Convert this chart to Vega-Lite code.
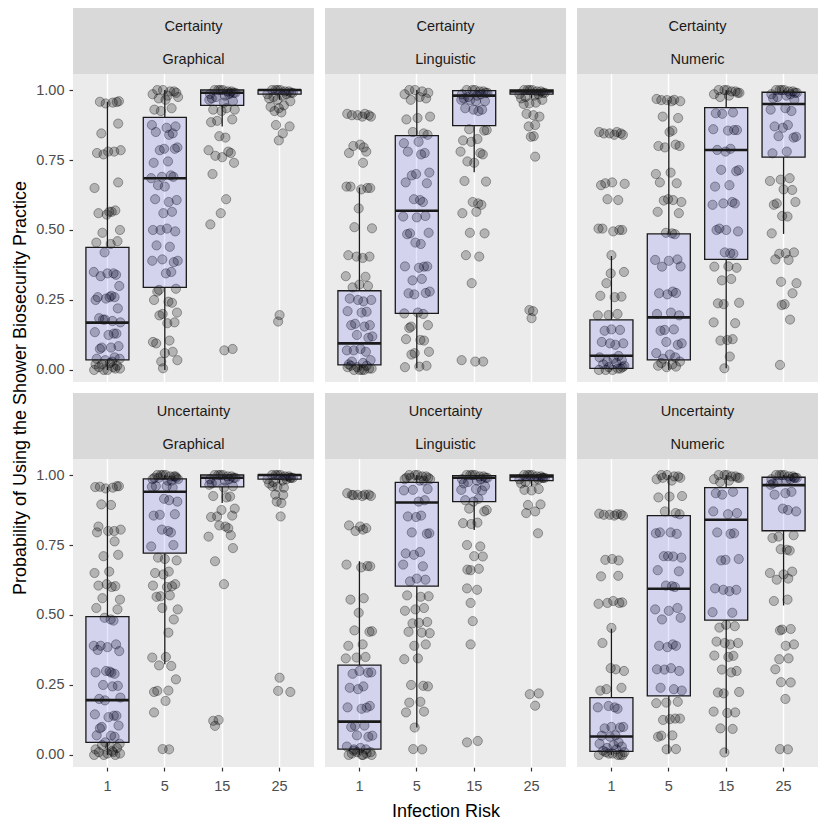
{
  "$schema": "https://vega.github.io/schema/vega-lite/v6.json",
  "padding": {"left": 11, "top": 8, "right": 5, "bottom": 5},
  "background": "white",
  "config": {
    "font": "Liberation Sans",
    "view": {"fill": "#ebebeb", "stroke": null},
    "axis": {
      "labelFont": "Liberation Sans",
      "labelFontSize": 14.5,
      "labelColor": "#4d4d4d",
      "tickColor": "#333333",
      "tickSize": 4,
      "tickWidth": 1.2,
      "gridColor": "#ffffff",
      "domain": false,
      "labelPadding": 5
    },
    "header": {
      "titleFont": "Liberation Sans",
      "titleFontSize": 18,
      "titleFontWeight": "normal",
      "titleColor": "#000000"
    }
  },
  "data": {
    "values": [
      {"condition": "Certainty", "format": "Graphical", "risk": "1", "lo": 0, "q1": 0.036, "md": 0.169, "q3": 0.438, "hi": 0.958,
       "p": [[0.958,-0.21],[0.955,0.15],[0.96,0.32],[0.952,-0.05],[0.957,0.26],[0.88,0.30],[0.845,-0.17],[0.78,0.02],[0.785,0.37],[0.775,-0.29],[0.78,0.19],[0.77,-0.11],[0.67,0.30],[0.65,-0.36],[0.565,0.05],[0.57,0.22],[0.56,-0.25],[0.565,0.12],[0.555,-0.02],[0.5,0.35],[0.49,-0.14],[0.46,0.28],[0.455,-0.31],[0.45,0.09],[0.42,-0.08],[0.345,0.17],[0.35,-0.38],[0.34,0.24],[0.345,0.0],[0.335,-0.19],[0.30,0.33],[0.26,-0.27],[0.265,0.11],[0.255,-0.04],[0.26,0.20],[0.25,-0.33],[0.26,0.06],[0.22,0.29],[0.18,-0.12],[0.175,0.14],[0.185,-0.23],[0.17,0.36],[0.18,-0.07],[0.13,0.25],[0.135,-0.35],[0.125,0.03],[0.13,0.18],[0.08,-0.16],[0.085,0.31],[0.075,-0.21],[0.08,0.10],[0.04,-0.30],[0.045,0.20],[0.035,-0.06],[0.04,0.34],[0.02,-0.15],[0.025,0.07],[0.015,0.27],[0.02,-0.33],[0.03,0.13],[0.01,-0.24],[0.0,0.0],[0.005,0.22],[0.0,-0.10],[0.005,0.35],[0.0,-0.37],[0.01,0.16]]},
      {"condition": "Certainty", "format": "Graphical", "risk": "5", "lo": 0, "q1": 0.295, "md": 0.685, "q3": 0.902, "hi": 1.0,
       "p": [[1.0,-0.21],[0.995,0.15],[0.99,0.32],[1.0,-0.05],[0.985,-0.34],[0.98,0.08],[0.995,0.26],[0.97,-0.17],[0.965,0.02],[0.975,0.37],[0.93,-0.29],[0.935,0.19],[0.925,-0.11],[0.87,0.30],[0.875,-0.36],[0.865,0.05],[0.845,0.22],[0.85,-0.25],[0.84,0.12],[0.79,-0.02],[0.795,0.35],[0.785,-0.14],[0.79,0.28],[0.74,-0.31],[0.745,0.09],[0.69,-0.08],[0.695,0.17],[0.685,-0.38],[0.69,0.24],[0.655,0.0],[0.66,-0.19],[0.607,0.33],[0.61,-0.27],[0.6,0.11],[0.56,-0.04],[0.565,0.20],[0.5,-0.33],[0.505,0.06],[0.495,0.29],[0.5,-0.12],[0.44,0.14],[0.445,-0.23],[0.39,0.36],[0.395,-0.07],[0.385,0.25],[0.39,-0.35],[0.345,0.03],[0.35,0.18],[0.286,-0.16],[0.29,0.31],[0.28,-0.21],[0.244,0.10],[0.25,-0.30],[0.24,0.20],[0.2,-0.06],[0.205,0.34],[0.195,-0.15],[0.167,0.07],[0.17,0.27],[0.1,-0.33],[0.105,0.13],[0.095,-0.24],[0.06,0.0],[0.065,0.22],[0.03,-0.10],[0.035,0.35],[0.006,-0.05]]},
      {"condition": "Certainty", "format": "Graphical", "risk": "15", "lo": 0.87, "q1": 0.945, "md": 0.99, "q3": 1.0, "hi": 1.0,
       "p": [[1.0,-0.21],[0.995,0.15],[0.99,0.32],[1.0,-0.05],[0.985,-0.34],[0.98,0.08],[0.995,0.26],[0.975,-0.17],[1.0,0.02],[0.99,0.37],[0.97,-0.29],[0.985,0.19],[1.0,-0.11],[0.96,0.30],[0.965,-0.36],[0.955,0.05],[0.99,0.22],[0.93,-0.25],[0.935,0.12],[0.925,-0.02],[0.93,0.35],[0.89,-0.14],[0.895,0.28],[0.885,-0.31],[0.83,0.09],[0.835,-0.08],[0.78,0.17],[0.785,-0.38],[0.775,0.24],[0.76,0.0],[0.765,-0.19],[0.74,0.33],[0.70,-0.27],[0.61,0.11],[0.56,-0.04],[0.52,-0.33],[0.07,0.06],[0.075,0.29]]},
      {"condition": "Certainty", "format": "Graphical", "risk": "25", "lo": 0.965, "q1": 0.985, "md": 1.0, "q3": 1.0, "hi": 1.0,
       "p": [[1.0,-0.21],[0.995,0.15],[0.99,0.32],[1.0,-0.05],[0.985,-0.34],[0.98,0.08],[0.995,0.26],[0.975,-0.17],[1.0,0.02],[0.99,0.37],[0.97,-0.29],[0.985,0.19],[1.0,-0.11],[0.96,0.30],[0.965,-0.06],[0.94,-0.25],[0.945,0.12],[0.935,-0.02],[0.92,0.05],[0.925,-0.14],[0.87,0.28],[0.875,-0.1],[0.845,0.09],[0.82,-0.02],[0.196,0.0],[0.173,-0.04]]},
      {"condition": "Certainty", "format": "Linguistic", "risk": "1", "lo": 0, "q1": 0.018, "md": 0.095, "q3": 0.283, "hi": 0.652,
       "p": [[0.91,-0.21],[0.915,0.15],[0.905,0.32],[0.91,-0.05],[0.915,-0.34],[0.905,0.08],[0.91,0.26],[0.80,-0.17],[0.805,0.02],[0.795,0.12],[0.775,-0.29],[0.78,0.19],[0.74,0.1],[0.65,0.30],[0.655,-0.36],[0.645,0.05],[0.65,0.22],[0.655,-0.25],[0.577,-0.02],[0.506,0.35],[0.51,-0.14],[0.405,0.28],[0.41,-0.31],[0.40,0.09],[0.405,-0.08],[0.333,0.17],[0.335,-0.38],[0.30,0.24],[0.305,0.0],[0.295,-0.19],[0.25,0.33],[0.255,-0.27],[0.245,0.11],[0.25,-0.04],[0.208,0.20],[0.21,-0.33],[0.205,0.06],[0.16,0.29],[0.165,-0.12],[0.155,0.14],[0.16,-0.23],[0.12,0.36],[0.125,-0.07],[0.115,0.25],[0.07,-0.35],[0.075,0.03],[0.065,0.18],[0.07,-0.16],[0.035,0.31],[0.03,-0.21],[0.025,0.10],[0.02,-0.30],[0.015,0.20],[0.01,-0.06],[0.005,0.34],[0.0,-0.15],[0.0,0.07],[0.005,0.27],[0.01,-0.33],[0.0,0.13],[0.015,-0.24],[0.0,0.0]]},
      {"condition": "Certainty", "format": "Linguistic", "risk": "5", "lo": 0.006, "q1": 0.202, "md": 0.569, "q3": 0.837, "hi": 1.0,
       "p": [[1.0,-0.21],[0.995,0.15],[0.99,0.32],[1.0,-0.05],[0.985,-0.34],[0.975,0.08],[0.97,0.26],[0.965,-0.17],[0.9,0.02],[0.905,0.37],[0.895,-0.29],[0.845,0.19],[0.85,-0.11],[0.84,0.30],[0.81,-0.36],[0.815,0.05],[0.775,0.22],[0.78,-0.25],[0.77,0.12],[0.70,-0.02],[0.705,0.35],[0.695,-0.14],[0.667,0.28],[0.67,-0.31],[0.607,0.09],[0.61,-0.08],[0.6,0.17],[0.548,-0.38],[0.55,0.24],[0.545,0.0],[0.488,-0.19],[0.49,0.33],[0.485,-0.27],[0.45,0.11],[0.455,-0.04],[0.369,0.20],[0.37,-0.33],[0.365,0.06],[0.37,0.29],[0.32,-0.12],[0.325,0.14],[0.274,-0.23],[0.28,0.36],[0.27,-0.07],[0.275,0.25],[0.202,-0.35],[0.205,0.03],[0.2,0.18],[0.155,-0.16],[0.16,0.31],[0.15,-0.21],[0.107,0.10],[0.11,-0.30],[0.105,0.20],[0.06,-0.06],[0.065,0.34],[0.055,-0.15],[0.012,0.07],[0.015,0.27],[0.01,-0.33]]},
      {"condition": "Certainty", "format": "Linguistic", "risk": "15", "lo": 0.706, "q1": 0.873, "md": 0.98, "q3": 0.998, "hi": 1.0,
       "p": [[1.0,-0.21],[0.995,0.15],[0.99,0.32],[1.0,-0.05],[0.985,-0.34],[0.98,0.08],[0.995,0.26],[0.975,-0.17],[1.0,0.02],[0.99,0.37],[0.97,-0.29],[0.985,0.19],[0.964,-0.11],[0.96,0.30],[0.965,-0.36],[0.96,0.05],[0.93,0.22],[0.935,-0.25],[0.925,0.12],[0.93,-0.02],[0.857,0.35],[0.86,-0.14],[0.855,0.28],[0.82,-0.31],[0.825,0.09],[0.815,-0.08],[0.775,0.17],[0.78,-0.38],[0.77,0.24],[0.74,0.0],[0.745,-0.19],[0.673,0.33],[0.675,-0.27],[0.595,0.11],[0.6,-0.04],[0.59,0.20],[0.56,-0.33],[0.565,0.06],[0.488,0.29],[0.49,-0.12],[0.405,0.14],[0.41,-0.23],[0.31,-0.07],[0.03,0.25],[0.035,-0.35],[0.03,0.03]]},
      {"condition": "Certainty", "format": "Linguistic", "risk": "25", "lo": 0.97, "q1": 0.985, "md": 0.995, "q3": 1.0, "hi": 1.0,
       "p": [[1.0,-0.21],[0.995,0.15],[0.99,0.32],[1.0,-0.05],[0.985,-0.34],[0.98,0.08],[0.995,0.26],[0.975,-0.17],[1.0,0.02],[0.99,0.37],[0.97,-0.29],[0.985,0.19],[1.0,-0.11],[0.965,0.30],[0.952,-0.06],[0.955,0.12],[0.95,-0.22],[0.91,0.05],[0.915,-0.14],[0.905,0.22],[0.87,-0.08],[0.875,0.1],[0.833,-0.02],[0.835,0.06],[0.762,0.1],[0.214,-0.06],[0.21,0.04],[0.185,0.0]]},
      {"condition": "Certainty", "format": "Numeric", "risk": "1", "lo": 0, "q1": 0.006, "md": 0.051, "q3": 0.179, "hi": 0.407,
       "p": [[0.845,-0.21],[0.85,0.15],[0.84,0.32],[0.845,-0.05],[0.85,-0.34],[0.84,0.08],[0.845,0.26],[0.667,-0.17],[0.67,0.02],[0.665,0.37],[0.66,-0.29],[0.607,0.19],[0.61,-0.11],[0.5,0.30],[0.505,-0.36],[0.495,0.05],[0.5,0.22],[0.505,-0.25],[0.41,0.0],[0.345,-0.02],[0.35,0.35],[0.31,-0.14],[0.262,0.28],[0.265,-0.31],[0.26,0.09],[0.196,-0.08],[0.2,0.17],[0.195,-0.38],[0.143,0.24],[0.145,0.0],[0.14,-0.19],[0.095,0.33],[0.1,-0.27],[0.09,0.11],[0.095,-0.04],[0.05,0.20],[0.045,-0.33],[0.04,0.06],[0.035,0.29],[0.03,-0.12],[0.025,0.14],[0.02,-0.23],[0.015,0.36],[0.01,-0.07],[0.005,0.25],[0.0,-0.35],[0.0,0.03],[0.005,0.18],[0.0,-0.16],[0.01,0.31]]},
      {"condition": "Certainty", "format": "Numeric", "risk": "5", "lo": 0, "q1": 0.036, "md": 0.188, "q3": 0.486, "hi": 0.964,
       "p": [[0.964,-0.21],[0.965,0.15],[0.96,0.32],[0.964,-0.05],[0.968,-0.34],[0.96,0.08],[0.9,0.26],[0.905,-0.17],[0.85,0.02],[0.855,0.1],[0.8,-0.29],[0.805,0.19],[0.795,-0.11],[0.8,0.30],[0.70,-0.36],[0.705,0.05],[0.667,0.22],[0.67,-0.25],[0.607,0.12],[0.61,-0.02],[0.6,0.35],[0.605,-0.14],[0.56,0.28],[0.565,-0.31],[0.488,0.09],[0.49,-0.08],[0.485,0.17],[0.393,-0.38],[0.395,0.24],[0.39,0.0],[0.369,-0.19],[0.37,0.33],[0.274,-0.27],[0.28,0.11],[0.27,-0.04],[0.275,0.20],[0.2,-0.33],[0.205,0.06],[0.195,0.29],[0.143,-0.12],[0.145,0.14],[0.14,-0.23],[0.095,0.36],[0.1,-0.07],[0.09,0.25],[0.06,-0.35],[0.055,0.03],[0.045,0.18],[0.04,-0.16],[0.03,0.31],[0.025,-0.21],[0.02,0.10],[0.015,-0.30],[0.012,0.20],[0.01,-0.06]]},
      {"condition": "Certainty", "format": "Numeric", "risk": "15", "lo": 0.006, "q1": 0.395, "md": 0.786, "q3": 0.937, "hi": 1.0,
       "p": [[1.0,-0.21],[0.995,0.15],[0.99,0.32],[1.0,-0.05],[0.985,-0.34],[0.98,0.08],[0.995,0.26],[0.975,-0.17],[1.0,0.02],[0.99,0.37],[0.917,-0.29],[0.92,0.19],[0.915,-0.11],[0.857,0.30],[0.86,-0.36],[0.855,0.05],[0.857,0.22],[0.786,-0.25],[0.79,0.12],[0.78,-0.02],[0.714,0.35],[0.715,-0.14],[0.71,0.28],[0.655,-0.31],[0.66,0.09],[0.595,-0.08],[0.6,0.17],[0.59,-0.38],[0.595,0.24],[0.5,0.0],[0.505,-0.19],[0.495,0.33],[0.5,-0.27],[0.417,0.11],[0.42,-0.04],[0.415,0.20],[0.369,-0.33],[0.37,0.06],[0.365,0.29],[0.32,-0.12],[0.325,0.14],[0.238,-0.23],[0.24,0.36],[0.235,-0.07],[0.167,0.25],[0.17,-0.35],[0.107,0.03],[0.11,0.18],[0.105,-0.16],[0.048,0.1],[0.006,-0.05]]},
      {"condition": "Certainty", "format": "Numeric", "risk": "25", "lo": 0.486, "q1": 0.76, "md": 0.95, "q3": 0.992, "hi": 1.0,
       "p": [[1.0,-0.21],[0.995,0.15],[0.99,0.32],[1.0,-0.05],[0.985,-0.34],[0.98,0.08],[0.995,0.26],[0.975,-0.17],[1.0,0.02],[0.99,0.37],[0.97,-0.29],[0.985,0.19],[1.0,-0.11],[0.965,0.30],[0.93,-0.36],[0.935,0.05],[0.925,0.22],[0.87,-0.25],[0.875,0.12],[0.865,-0.02],[0.833,0.35],[0.835,-0.14],[0.83,0.28],[0.774,-0.31],[0.78,0.09],[0.68,-0.08],[0.685,0.17],[0.675,-0.38],[0.643,0.24],[0.645,0.0],[0.595,-0.19],[0.6,0.33],[0.59,-0.27],[0.548,0.11],[0.55,-0.04],[0.488,-0.33],[0.417,0.06],[0.42,0.29],[0.415,-0.12],[0.393,0.14],[0.395,-0.23],[0.31,0.36],[0.315,-0.07],[0.274,0.25],[0.232,-0.05],[0.235,0.03],[0.18,0.18],[0.018,-0.1]]},
      {"condition": "Uncertainty", "format": "Graphical", "risk": "1", "lo": 0, "q1": 0.045, "md": 0.196, "q3": 0.494, "hi": 0.958,
       "p": [[0.958,-0.21],[0.955,0.15],[0.96,0.32],[0.952,-0.05],[0.957,-0.34],[0.96,0.26],[0.893,0.1],[0.895,-0.17],[0.816,-0.25],[0.8,0.02],[0.805,0.37],[0.795,-0.29],[0.8,0.19],[0.763,0.2],[0.71,-0.11],[0.715,0.30],[0.65,-0.36],[0.655,0.05],[0.603,0.22],[0.605,-0.25],[0.6,0.12],[0.61,-0.02],[0.555,0.35],[0.56,-0.14],[0.52,0.28],[0.525,-0.31],[0.484,0.09],[0.49,-0.08],[0.48,0.17],[0.39,-0.38],[0.395,0.24],[0.385,0.0],[0.39,-0.19],[0.371,0.33],[0.375,-0.27],[0.294,0.11],[0.3,-0.04],[0.29,0.20],[0.295,-0.33],[0.298,0.06],[0.247,0.29],[0.25,-0.12],[0.245,0.14],[0.2,-0.23],[0.205,0.36],[0.195,-0.07],[0.14,0.25],[0.145,-0.35],[0.135,0.03],[0.14,0.18],[0.1,-0.16],[0.105,0.31],[0.095,-0.21],[0.069,0.10],[0.07,-0.30],[0.065,0.20],[0.045,-0.06],[0.04,0.34],[0.035,-0.15],[0.03,0.07],[0.025,0.27],[0.02,-0.33],[0.015,0.13],[0.01,-0.24],[0.005,0.0],[0.0,0.22],[0.0,-0.10],[0.005,0.35],[0.0,-0.37],[0.01,0.16]]},
      {"condition": "Uncertainty", "format": "Graphical", "risk": "5", "lo": 0.324, "q1": 0.721, "md": 0.94, "q3": 0.986, "hi": 1.0,
       "p": [[1.0,-0.21],[0.995,0.15],[0.99,0.32],[1.0,-0.05],[0.985,-0.34],[0.98,0.08],[0.995,0.26],[0.99,-0.17],[1.0,0.02],[0.985,0.37],[0.99,-0.29],[0.98,0.19],[1.0,-0.11],[0.995,0.30],[0.958,-0.36],[0.96,0.05],[0.955,0.22],[0.96,-0.25],[0.91,0.12],[0.915,-0.02],[0.905,0.35],[0.858,-0.14],[0.86,0.28],[0.855,-0.31],[0.8,0.09],[0.805,-0.08],[0.795,0.17],[0.745,-0.38],[0.75,0.24],[0.7,0.0],[0.705,-0.19],[0.695,0.33],[0.65,-0.27],[0.655,0.11],[0.645,-0.04],[0.603,0.20],[0.605,-0.33],[0.6,0.06],[0.61,0.29],[0.567,-0.12],[0.57,0.14],[0.565,-0.23],[0.52,0.36],[0.525,-0.07],[0.484,0.25],[0.437,0.1],[0.348,-0.35],[0.35,0.03],[0.318,0.18],[0.32,-0.16],[0.27,0.31],[0.229,-0.21],[0.23,0.10],[0.225,-0.30],[0.193,0.02],[0.152,-0.3],[0.021,-0.06],[0.02,0.12]]},
      {"condition": "Uncertainty", "format": "Graphical", "risk": "15", "lo": 0.9, "q1": 0.958, "md": 0.99, "q3": 1.0, "hi": 1.0,
       "p": [[1.0,-0.21],[0.995,0.15],[0.99,0.32],[1.0,-0.05],[0.985,-0.34],[0.98,0.08],[0.995,0.26],[0.975,-0.17],[1.0,0.02],[0.99,0.37],[0.97,-0.29],[0.985,0.19],[1.0,-0.11],[0.96,0.30],[0.965,-0.36],[0.955,0.05],[0.923,0.22],[0.925,-0.25],[0.92,0.12],[0.875,-0.02],[0.88,0.35],[0.852,-0.14],[0.855,0.28],[0.85,-0.31],[0.816,0.09],[0.82,-0.08],[0.81,0.17],[0.78,-0.38],[0.785,0.24],[0.739,0.3],[0.692,-0.2],[0.61,0.05],[0.122,-0.25],[0.125,-0.1],[0.104,-0.2]]},
      {"condition": "Uncertainty", "format": "Graphical", "risk": "25", "lo": 0.97, "q1": 0.985, "md": 1.0, "q3": 1.0, "hi": 1.0,
       "p": [[1.0,-0.21],[0.995,0.15],[0.99,0.32],[1.0,-0.05],[0.985,-0.34],[0.98,0.08],[0.995,0.26],[0.975,-0.17],[1.0,0.02],[0.99,0.37],[0.97,-0.29],[0.985,0.19],[1.0,-0.11],[0.99,0.30],[0.958,-0.06],[0.955,0.12],[0.96,-0.2],[0.929,0.1],[0.93,-0.12],[0.9,0.05],[0.905,-0.08],[0.852,0.03],[0.276,0.0],[0.229,-0.04],[0.225,0.3]]},
      {"condition": "Uncertainty", "format": "Linguistic", "risk": "1", "lo": 0, "q1": 0.021, "md": 0.119, "q3": 0.321, "hi": 0.692,
       "p": [[0.929,-0.21],[0.93,0.15],[0.925,0.32],[0.929,-0.05],[0.935,-0.34],[0.925,0.08],[0.93,0.26],[0.928,-0.17],[0.816,0.02],[0.82,-0.29],[0.81,0.19],[0.8,-0.11],[0.805,0.10],[0.674,0.30],[0.68,-0.36],[0.67,0.05],[0.675,0.22],[0.555,-0.25],[0.56,0.12],[0.508,-0.02],[0.442,0.35],[0.445,-0.14],[0.44,0.28],[0.39,-0.31],[0.395,0.09],[0.348,-0.08],[0.35,0.17],[0.345,-0.38],[0.294,0.24],[0.3,0.0],[0.29,-0.19],[0.295,0.33],[0.24,-0.27],[0.245,0.11],[0.235,-0.04],[0.169,0.20],[0.17,-0.33],[0.165,0.06],[0.175,0.29],[0.104,-0.12],[0.105,0.14],[0.1,-0.23],[0.069,0.36],[0.07,-0.07],[0.065,0.25],[0.03,-0.35],[0.025,0.03],[0.02,0.18],[0.015,-0.16],[0.01,0.31],[0.005,-0.21],[0.0,0.10],[0.0,-0.30],[0.005,0.20],[0.01,-0.06],[0.0,0.34],[0.02,-0.15],[0.0,0.07]]},
      {"condition": "Uncertainty", "format": "Linguistic", "risk": "5", "lo": 0.098, "q1": 0.603, "md": 0.902, "q3": 0.974, "hi": 1.0,
       "p": [[1.0,-0.21],[0.995,0.15],[0.99,0.32],[1.0,-0.05],[0.985,-0.34],[0.98,0.08],[0.995,0.26],[0.99,-0.17],[1.0,0.02],[0.985,0.37],[0.99,-0.29],[0.98,0.19],[0.947,-0.11],[0.95,0.30],[0.945,-0.36],[0.905,0.05],[0.91,0.22],[0.852,-0.25],[0.855,0.12],[0.85,-0.02],[0.792,0.35],[0.795,-0.14],[0.79,0.28],[0.72,-0.31],[0.725,0.09],[0.715,-0.08],[0.674,0.17],[0.68,-0.38],[0.626,0.24],[0.63,0.0],[0.62,-0.19],[0.567,0.33],[0.57,-0.27],[0.565,0.11],[0.52,-0.04],[0.525,0.20],[0.515,-0.33],[0.472,0.06],[0.475,0.29],[0.47,-0.12],[0.437,0.14],[0.44,-0.23],[0.435,0.36],[0.39,-0.07],[0.395,0.25],[0.342,-0.35],[0.345,0.03],[0.247,0.18],[0.25,-0.16],[0.245,0.31],[0.187,-0.21],[0.19,0.10],[0.152,-0.30],[0.155,0.20],[0.098,-0.06],[0.021,-0.1],[0.02,0.15]]},
      {"condition": "Uncertainty", "format": "Linguistic", "risk": "15", "lo": 0.804, "q1": 0.905, "md": 0.99, "q3": 0.998, "hi": 1.0,
       "p": [[1.0,-0.21],[0.995,0.15],[0.99,0.32],[1.0,-0.05],[0.985,-0.34],[0.98,0.08],[0.995,0.26],[0.975,-0.17],[1.0,0.02],[0.99,0.37],[0.97,-0.29],[0.985,0.19],[1.0,-0.11],[0.96,0.30],[0.947,-0.36],[0.95,0.05],[0.945,0.22],[0.91,-0.25],[0.915,0.12],[0.905,-0.02],[0.875,0.35],[0.88,-0.14],[0.87,0.28],[0.828,-0.31],[0.83,0.09],[0.825,-0.08],[0.745,0.17],[0.75,-0.2],[0.709,0.24],[0.71,0.0],[0.662,-0.19],[0.665,0.13],[0.66,-0.1],[0.59,0.08],[0.595,-0.2],[0.543,-0.1],[0.478,-0.04],[0.395,-0.1],[0.045,-0.2],[0.05,0.1]]},
      {"condition": "Uncertainty", "format": "Linguistic", "risk": "25", "lo": 0.96, "q1": 0.98, "md": 0.995, "q3": 1.0, "hi": 1.0,
       "p": [[1.0,-0.21],[0.995,0.15],[0.99,0.32],[1.0,-0.05],[0.985,-0.34],[0.98,0.08],[0.995,0.26],[0.975,-0.17],[1.0,0.02],[0.99,0.37],[0.97,-0.29],[0.985,0.19],[1.0,-0.11],[0.99,0.30],[0.947,-0.2],[0.95,0.2],[0.945,0.0],[0.893,-0.1],[0.895,0.25],[0.864,-0.15],[0.87,0.1],[0.792,0.18],[0.217,-0.05],[0.22,0.2],[0.176,0.1]]},
      {"condition": "Uncertainty", "format": "Numeric", "risk": "1", "lo": 0, "q1": 0.013, "md": 0.066, "q3": 0.205, "hi": 0.451,
       "p": [[0.858,-0.21],[0.86,0.15],[0.855,0.32],[0.858,-0.05],[0.862,-0.34],[0.855,0.08],[0.86,0.26],[0.697,-0.17],[0.7,0.02],[0.695,0.2],[0.638,-0.29],[0.64,0.19],[0.543,-0.11],[0.545,0.30],[0.54,-0.36],[0.55,0.05],[0.543,0.22],[0.454,0.0],[0.4,-0.25],[0.306,0.12],[0.31,-0.02],[0.3,0.35],[0.235,-0.14],[0.24,0.28],[0.23,-0.31],[0.17,0.09],[0.175,-0.08],[0.165,0.17],[0.17,-0.38],[0.098,0.24],[0.1,0.0],[0.095,-0.19],[0.1,0.33],[0.069,-0.27],[0.07,0.11],[0.065,-0.04],[0.045,0.20],[0.04,-0.33],[0.035,0.06],[0.03,0.29],[0.025,-0.12],[0.02,0.14],[0.015,-0.23],[0.01,0.36],[0.005,-0.07],[0.0,0.25],[0.0,-0.35],[0.005,0.03],[0.0,0.18],[0.01,-0.16],[0.0,0.31]]},
      {"condition": "Uncertainty", "format": "Numeric", "risk": "5", "lo": 0.005, "q1": 0.211, "md": 0.594, "q3": 0.855, "hi": 1.0,
       "p": [[1.0,-0.21],[0.995,0.15],[0.99,0.32],[1.0,-0.05],[0.985,-0.34],[0.98,0.08],[0.995,0.26],[0.99,-0.17],[0.923,0.02],[0.925,0.37],[0.92,-0.29],[0.864,0.19],[0.87,-0.11],[0.86,0.30],[0.792,-0.36],[0.795,0.05],[0.79,0.22],[0.795,-0.25],[0.709,0.12],[0.71,-0.02],[0.705,0.35],[0.71,-0.14],[0.656,0.28],[0.66,-0.31],[0.603,0.09],[0.605,-0.08],[0.6,0.17],[0.52,-0.38],[0.525,0.24],[0.515,0.0],[0.484,-0.19],[0.49,0.33],[0.39,-0.27],[0.395,0.11],[0.385,-0.04],[0.39,0.20],[0.306,-0.33],[0.31,0.06],[0.3,0.29],[0.305,-0.12],[0.235,0.14],[0.24,-0.23],[0.23,0.36],[0.187,-0.07],[0.19,0.25],[0.185,-0.35],[0.128,0.03],[0.13,0.18],[0.125,-0.16],[0.13,0.31],[0.069,-0.21],[0.07,0.10],[0.065,-0.30],[0.021,0.20],[0.02,-0.06]]},
      {"condition": "Uncertainty", "format": "Numeric", "risk": "15", "lo": 0.005, "q1": 0.482, "md": 0.84, "q3": 0.955, "hi": 1.0,
       "p": [[1.0,-0.21],[0.995,0.15],[0.99,0.32],[1.0,-0.05],[0.985,-0.34],[0.98,0.08],[0.995,0.26],[0.975,-0.17],[1.0,0.02],[0.99,0.37],[0.935,-0.29],[0.94,0.19],[0.93,-0.11],[0.864,0.30],[0.87,-0.36],[0.86,0.05],[0.792,0.22],[0.795,-0.25],[0.79,0.12],[0.697,-0.02],[0.7,0.35],[0.695,-0.14],[0.59,0.28],[0.595,-0.31],[0.585,0.09],[0.59,-0.08],[0.508,0.17],[0.51,-0.38],[0.46,0.24],[0.465,0.0],[0.455,-0.19],[0.4,0.33],[0.405,-0.27],[0.395,0.11],[0.4,-0.04],[0.354,0.20],[0.355,-0.33],[0.35,0.06],[0.3,0.29],[0.305,-0.12],[0.295,0.14],[0.223,-0.23],[0.225,0.36],[0.22,-0.07],[0.152,0.25],[0.155,-0.35],[0.15,0.03],[0.093,0.18],[0.095,-0.16],[0.009,-0.05]]},
      {"condition": "Uncertainty", "format": "Numeric", "risk": "25", "lo": 0.534, "q1": 0.801, "md": 0.964, "q3": 0.992, "hi": 1.0,
       "p": [[1.0,-0.21],[0.995,0.15],[0.99,0.32],[1.0,-0.05],[0.985,-0.34],[0.98,0.08],[0.995,0.26],[0.975,-0.17],[1.0,0.02],[0.99,0.37],[0.97,-0.29],[0.985,0.19],[1.0,-0.11],[0.99,0.30],[0.965,-0.36],[0.935,0.05],[0.94,0.22],[0.93,-0.25],[0.875,0.12],[0.88,-0.02],[0.87,0.35],[0.78,-0.14],[0.785,0.28],[0.775,-0.31],[0.733,0.09],[0.735,-0.08],[0.73,0.17],[0.65,-0.38],[0.655,0.24],[0.645,0.0],[0.626,-0.19],[0.63,0.13],[0.55,-0.27],[0.555,0.11],[0.448,-0.04],[0.45,0.20],[0.445,-0.1],[0.39,0.06],[0.395,0.29],[0.342,-0.12],[0.345,0.14],[0.306,-0.23],[0.259,0.2],[0.26,-0.07],[0.2,0.05],[0.021,-0.1],[0.02,0.12]]}
    ]
  },
  "facet": {
    "row": {
      "field": "condition",
      "type": "nominal",
      "header": {"labels": false, "title": "Probability of Using the Shower Biosecurity Practice", "titlePadding": -5}
    },
    "column": {
      "field": "format",
      "type": "nominal",
      "header": {"labels": false, "title": "Infection Risk", "titleOrient": "bottom", "titlePadding": 0}
    }
  },
  "spacing": {"row": 11, "column": 11},
  "spec": {
    "width": 241,
    "height": 374,
    "resolve": {"scale": {"xOffset": "independent"}},
    "layer": [
      {
        "transform": [{"filter": "datum.risk == '1'"}],
        "mark": {"type": "rect", "fill": "#d9d9d9"},
        "encoding": {
          "x": {"value": 0},
          "x2": {"value": "width"},
          "y": {"datum": 1.057, "type": "quantitative", "scale": {"domain": [-0.043, 1.293], "nice": false, "zero": false}},
          "y2": {"datum": 1.293}
        }
      },
      {
        "transform": [{"filter": "datum.risk == '1'"}],
        "mark": {"type": "text", "fontSize": 14.5, "color": "#1a1a1a", "baseline": "middle"},
        "encoding": {
          "x": {"datum": "15", "type": "nominal", "bandPosition": 0},
          "y": {"datum": 1.225, "type": "quantitative"},
          "text": {"field": "condition"}
        }
      },
      {
        "transform": [{"filter": "datum.risk == '1'"}],
        "mark": {"type": "text", "fontSize": 14.5, "color": "#1a1a1a", "baseline": "middle"},
        "encoding": {
          "x": {"datum": "15", "type": "nominal", "bandPosition": 0},
          "y": {"datum": 1.109, "type": "quantitative"},
          "text": {"field": "format"}
        }
      },
      {
        "transform": [{"flatten": ["p"]}],
        "mark": {"type": "point", "shape": "circle", "filled": true, "fill": "#000000", "stroke": "#000000", "fillOpacity": 0.24, "strokeOpacity": 0.32, "strokeWidth": 1, "opacity": 1, "size": 85},
        "encoding": {
          "x": {"field": "risk", "type": "nominal", "title": null,
                "scale": {"type": "band", "domain": ["1", "5", "15", "25"], "paddingInner": 0, "paddingOuter": 0.1},
                "axis": {"title": null, "grid": true, "bandPosition": 0.5, "gridWidth": 1.4, "labelAngle": 0, "labelAlign": "center", "labelPadding": 15}},
          "xOffset": {"field": "p[1]", "type": "quantitative", "scale": {"domain": [-0.8, 0.8]}},
          "y": {"field": "p[0]", "type": "quantitative", "title": null,
                "scale": {"domain": [-0.043, 1.293], "nice": false, "zero": false},
                "axis": {
                  "title": null,
                  "values": [0, 0.125, 0.25, 0.375, 0.5, 0.625, 0.75, 0.875, 1],
                  "labelExpr": "datum.value % 0.25 == 0 ? format(datum.value, '.2f') : ''",
                  "tickOpacity": {"condition": {"test": "datum.value % 0.25 != 0", "value": 0}, "value": 1},
                  "gridWidth": {"condition": {"test": "datum.value % 0.25 != 0", "value": 0.7}, "value": 1.4}
                }}
        }
      },
      {
        "mark": {"type": "rule", "color": "#1a1a1a", "strokeWidth": 1.3},
        "encoding": {
          "x": {"field": "risk", "type": "nominal", "title": null},
          "y": {"field": "lo", "type": "quantitative", "title": null},
          "y2": {"field": "q1"}
        }
      },
      {
        "mark": {"type": "rule", "color": "#1a1a1a", "strokeWidth": 1.3},
        "encoding": {
          "x": {"field": "risk", "type": "nominal", "title": null},
          "y": {"field": "q3", "type": "quantitative", "title": null},
          "y2": {"field": "hi"}
        }
      },
      {
        "mark": {"type": "bar", "fill": "#0000ff", "fillOpacity": 0.1, "stroke": "#1a1a1a", "strokeWidth": 1.3, "width": {"band": 0.75}},
        "encoding": {
          "x": {"field": "risk", "type": "nominal", "title": null},
          "y": {"field": "q1", "type": "quantitative", "title": null},
          "y2": {"field": "q3"}
        }
      },
      {
        "mark": {"type": "bar", "fill": null, "stroke": "#1a1a1a", "strokeWidth": 2.6, "width": {"band": 0.75}},
        "encoding": {
          "x": {"field": "risk", "type": "nominal", "title": null},
          "y": {"field": "md", "type": "quantitative", "title": null},
          "y2": {"field": "md"}
        }
      }
    ]
  }
}
